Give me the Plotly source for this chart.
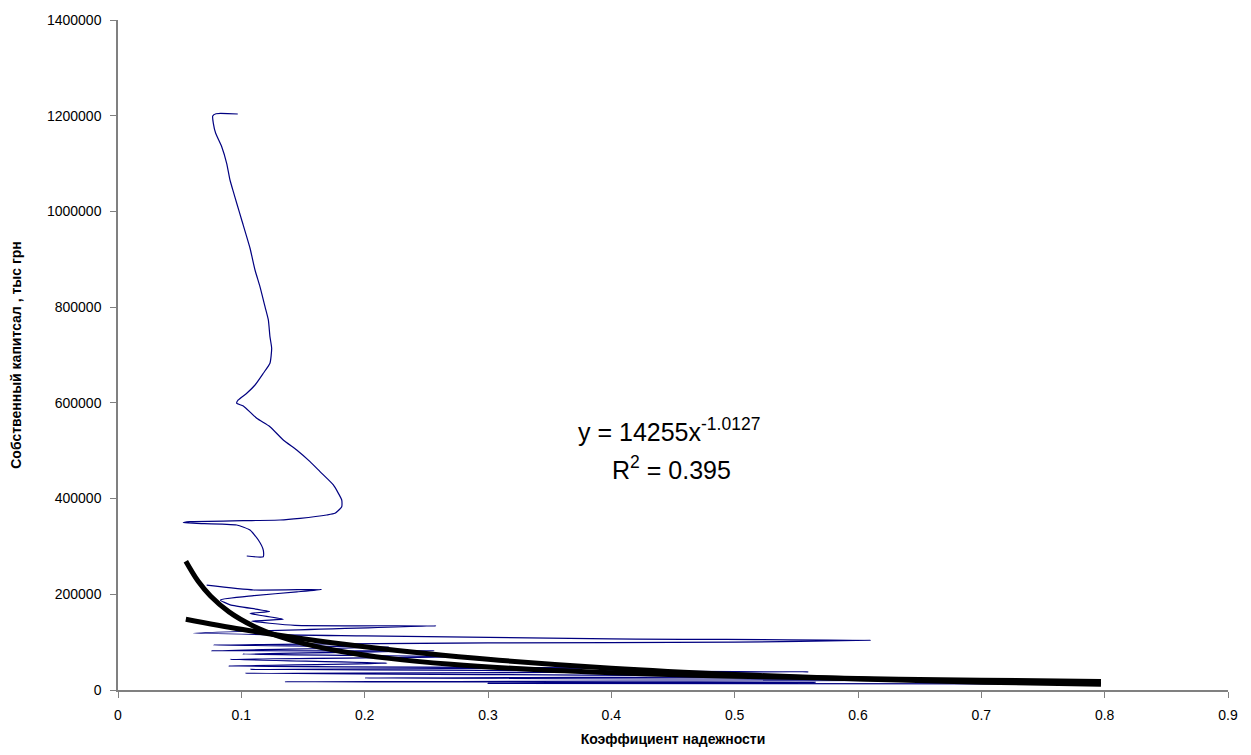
import plotly.graph_objects as go

# Blue series: reliability coefficient (x) vs equity capital (y), ordered by capital
bank_x = [0.0971, 0.0795, 0.0768, 0.0773, 0.0792, 0.0841, 0.0881, 0.0908, 0.0935, 0.0962,
          0.1003, 0.1070, 0.1111, 0.1151, 0.1192, 0.1219, 0.1232, 0.1246, 0.1232, 0.1178,
          0.1111, 0.1044, 0.0975, 0.0962, 0.1016, 0.1125, 0.1232, 0.1340, 0.1449, 0.1557,
          0.1638, 0.1746, 0.1814, 0.1814, 0.1759, 0.1692, 0.1476, 0.1314, 0.1016, 0.0584,
          0.0529, 0.0638, 0.0962, 0.1070, 0.1138, 0.1178, 0.1178, 0.1044,
          None,
          0.0719, 0.110, 0.165, 0.145, 0.110, 0.083, 0.091, 0.123, 0.107, 0.134,
          0.108, 0.1435, 0.258, 0.061, 0.20, 0.40, 0.61, 0.50, 0.30, 0.0773,
          0.22, 0.076, 0.256, 0.101, 0.283, 0.091, 0.218, 0.0895, 0.42, 0.107,
          0.56, 0.103, 0.60, 0.20, 0.797, 0.135, 0.566, 0.30, 0.797]
bank_y = [1203600, 1204200, 1199400, 1184200, 1163300, 1135300, 1100600, 1065700, 1041300, 1017600,
          982100, 923600, 877600, 842700, 800900, 773200, 738300, 714000, 682700, 661800,
          637300, 620000, 606000, 599100, 593500, 567700, 550200, 522400, 501500, 477100,
          456200, 428400, 397000, 383000, 369200, 365700, 358800, 355200, 353800, 351700,
          349600, 348300, 344800, 334300, 313400, 292500, 278500, 280000,
          None,
          219000, 209000, 210000, 205000, 197000, 188000, 178000, 164000, 160000, 148000,
          144000, 135000, 134000, 119000, 113000, 107000, 104000, 100000, 98500, 94000,
          90000, 82000, 82000, 75000, 69600, 64000, 56000, 50000, 46000, 43000,
          38000, 35000, 28000, 25000, 21000, 17300, 16000, 14000, 12500]

# Power trend line (y = 14255x^-1.0127)
pow_x = [0.055, 0.065, 0.075, 0.09, 0.11, 0.13, 0.15, 0.18, 0.22, 0.27, 0.33, 0.4, 0.5, 0.6, 0.7, 0.797]
pow_y = [269000, 227100, 196500, 163300, 133300, 112500, 97360, 80940, 66060, 53690, 43810,
         36060, 28760, 23910, 20460, 17940]

# Second (exponential-like) trend line
exp_x = [0.055, 0.1, 0.15, 0.2, 0.25, 0.3, 0.4, 0.5, 0.6, 0.7, 0.797]
exp_y = [148000, 126900, 107000, 90260, 76100, 64180, 45630, 32450, 23080, 16410, 11780]

x_ticks = [0, 0.1, 0.2, 0.3, 0.4, 0.5, 0.6, 0.7, 0.8, 0.9]
y_ticks = [0, 200000, 400000, 600000, 800000, 1000000, 1200000, 1400000]

FONT = "Liberation Sans, Arial"

fig = go.Figure()
fig.add_trace(go.Scatter(x=bank_x, y=bank_y, mode="lines",
                         line=dict(color="#000080", width=1.2, shape="spline", smoothing=0.5),
                         connectgaps=False, hoverinfo="skip"))
fig.add_trace(go.Scatter(x=exp_x, y=exp_y, mode="lines",
                         line=dict(color="black", width=5, shape="spline"), hoverinfo="skip"))
fig.add_trace(go.Scatter(x=pow_x, y=pow_y, mode="lines",
                         line=dict(color="black", width=5, shape="spline"), hoverinfo="skip"))

fig.add_annotation(x=0.4468, y=543000, xref="x", yref="y", showarrow=False,
                   text="y = 14255x<sup>-1.0127</sup>",
                   font=dict(family=FONT, size=25, color="black"))
fig.add_annotation(x=0.4485, y=464000, xref="x", yref="y", showarrow=False,
                   text="R<sup>2</sup> = 0.395",
                   font=dict(family=FONT, size=25, color="black"))

# page body has an 8px margin, so the figure is sized/offset to compensate
fig.update_layout(
    width=1235, height=739,
    margin=dict(l=110, r=15, t=12, b=57),
    paper_bgcolor="white", plot_bgcolor="white",
    showlegend=False,
    font=dict(family=FONT, size=14, color="black"),
)
fig.update_xaxes(range=[0, 0.9], tickvals=x_ticks, ticktext=[str(v) for v in x_ticks],
                 automargin=False, ticklabelstandoff=5,
                 showgrid=False, zeroline=False, showline=True, linecolor="#808080", linewidth=1.5,
                 ticks="outside", ticklen=6, tickcolor="#808080",
                 title=dict(text="<b>Коэффициент надежности</b>", standoff=30,
                            font=dict(size=14, family=FONT)))
fig.update_yaxes(range=[0, 1400000], tickvals=y_ticks, ticktext=[str(v) for v in y_ticks],
                 automargin=False, ticklabelstandoff=6,
                 showgrid=False, zeroline=False, showline=True, linecolor="#808080", linewidth=1.5,
                 ticks="outside", ticklen=6, tickcolor="#808080",
                 title=dict(text="<b>Собственный капитсал , тыс грн</b>", standoff=30,
                            font=dict(size=14, family=FONT)))

fig.write_html("out.html")
